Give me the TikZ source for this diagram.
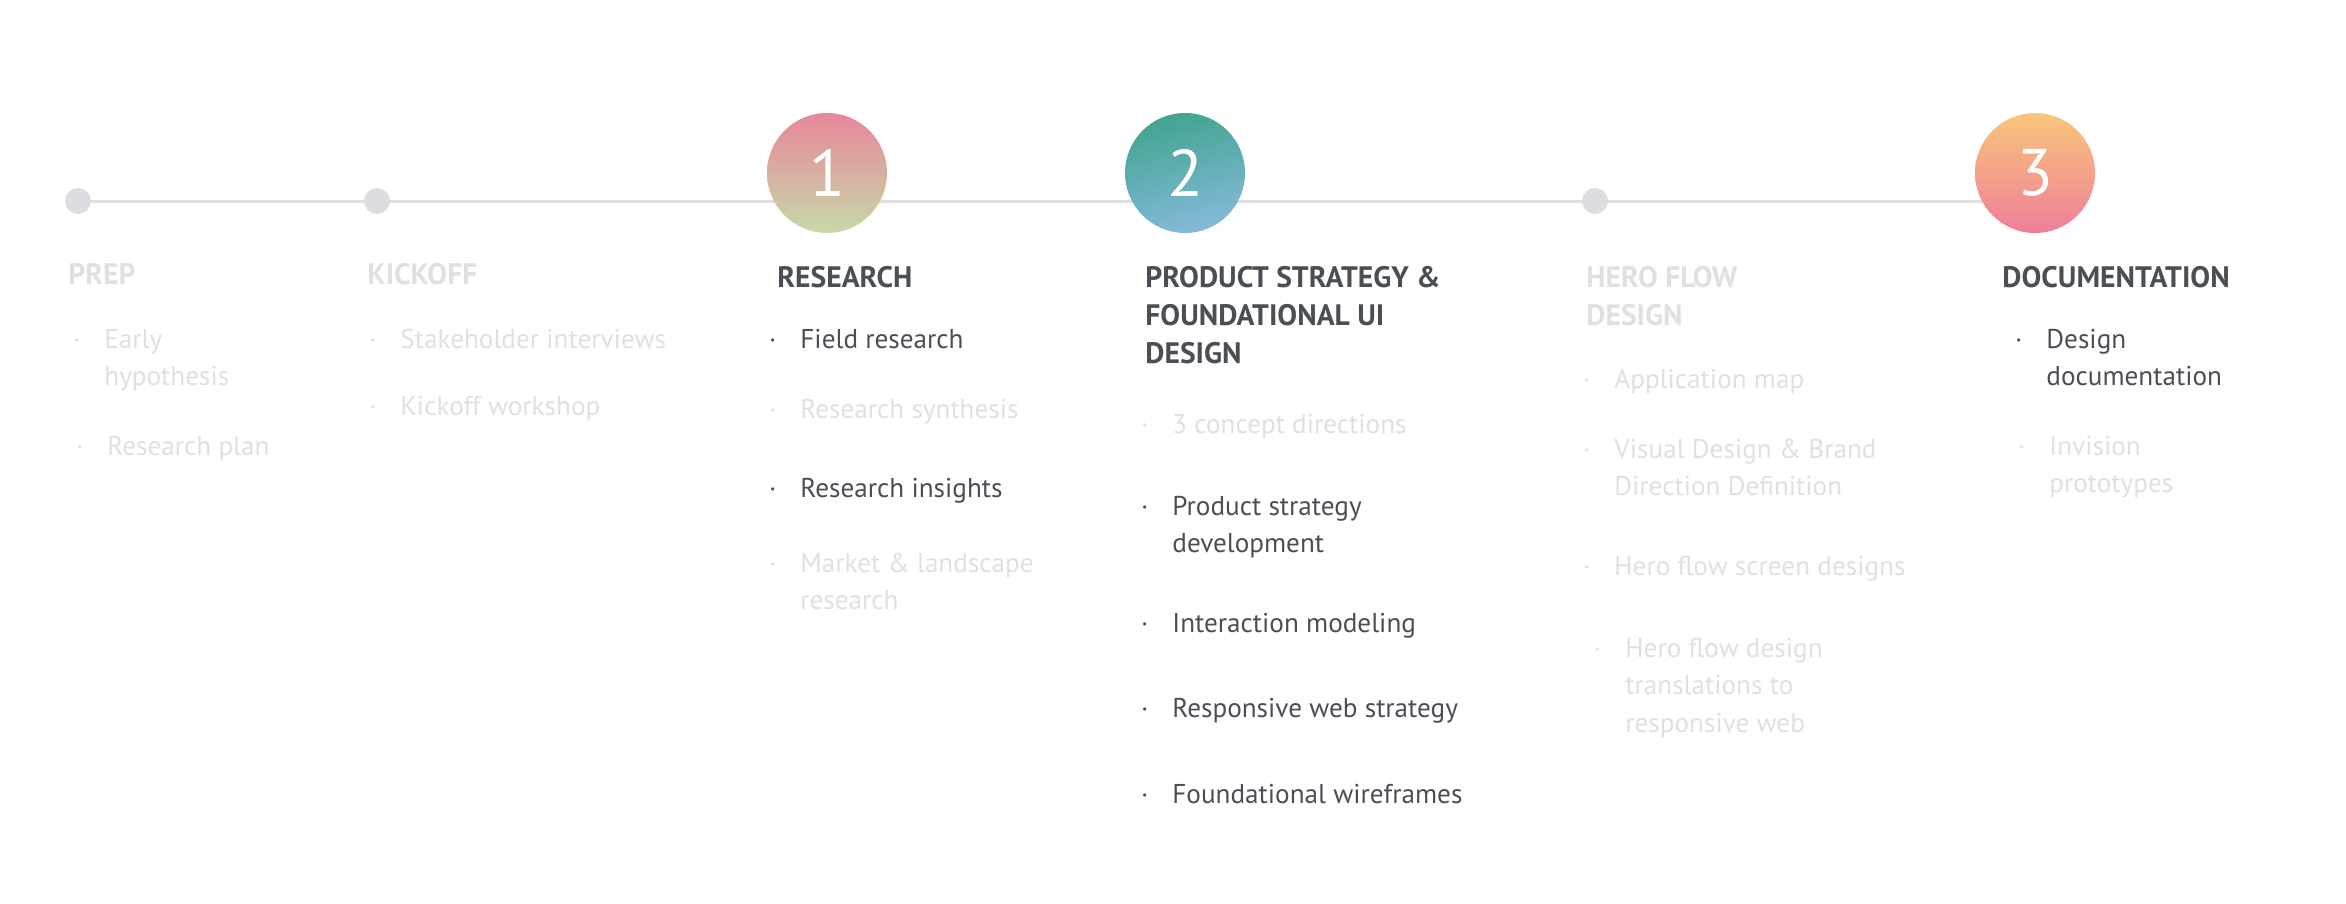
\documentclass[tikz,border=0pt]{standalone}
\usepackage{fontspec}
\setmainfont{PT Sans}
\usetikzlibrary{positioning,backgrounds}
\definecolor{track}{HTML}{E0E0E2}
\definecolor{stopgray}{HTML}{DCDDE0}
\definecolor{faint}{HTML}{E0E0E0}
\definecolor{ink}{HTML}{4A4F56}
\definecolor{pinkA}{HTML}{E6879B}
\definecolor{sageB}{HTML}{C8D9A8}
\definecolor{tealA}{HTML}{42A48F}
\definecolor{skyB}{HTML}{86B9DB}
\definecolor{sunA}{HTML}{F9C67A}
\definecolor{roseB}{HTML}{EF7E99}
\newcommand\bul{\llap{\textperiodcentered\hspace{12pt}}}
\tikzset{
  stop/.style={circle, fill=stopgray, minimum size=13pt, inner sep=0pt},
  phase/.style={circle, minimum size=60pt, inner sep=0pt, text=white, font=\fontsize{33}{33}\selectfont},
  head/.style={anchor=base west, inner sep=0pt, align=left, font=\fontsize{14.8}{19}\selectfont\bfseries},
  item/.style={anchor=base west, inner sep=0pt, align=left, font=\fontsize{13.6}{18.75}\selectfont},
  faded/.style={text=faint},
  active/.style={text=ink}
}
\begin{document}
\begin{tikzpicture}[x=0.5pt, y=-0.5pt]
    \useasboundingbox (0,0) rectangle (2346,904);
    \node[stop] (p) at (78,201) {};
    \node[stop] (k) at (377,201) {};
    \node[phase, top color=pinkA, bottom color=sageB] (r) at (827,173) {1};
    \node[phase, top color=tealA, bottom color=skyB, shading angle=15] (s) at (1185,173) {2};
    \node[stop] (h) at (1595,201) {};
    \node[phase, top color=sunA, bottom color=roseB] (d) at (2035,173) {3};
    \begin{scope}[on background layer]
        \draw[track, line width=1.5pt] (p) -- (p -| d);
    \end{scope}

    \node[head, faded] (ph) at (68,284) {PREP};
    \node[item, faded] (p1) at (104,385.5) {\bul Early\\hypothesis};
    \node[item, faded] (p2) at (107,455) {\bul Research plan};

    \node[head, faded] (kh) at (367,284) {KICKOFF};
    \node[item, faded] (k1) at (400,348) {\bul Stakeholder interviews};
    \node[item, faded] (k2) at (400,415) {\bul Kickoff workshop};

    \node[head, active] (rh) at (777,287) {RESEARCH};
    \node[item, active] (r1) at (800,348) {\bul Field research};
    \node[item, faded] (r2) at (800,418) {\bul Research synthesis};
    \node[item, active] (r3) at (800,497) {\bul Research insights};
    \node[item, faded] (r4) at (800,609.5) {\bul Market \& landscape\\research};

    \node[head, active] (sh) at (1145,363) {PRODUCT STRATEGY \&\\FOUNDATIONAL UI\\DESIGN};
    \node[item, faded] (s1) at (1172,433) {\bul 3 concept directions};
    \node[item, active] (s2) at (1172,552.5) {\bul Product strategy\\development};
    \node[item, active] (s3) at (1172,632) {\bul Interaction modeling};
    \node[item, active] (s4) at (1172,717) {\bul Responsive web strategy};
    \node[item, active] (s5) at (1172,803) {\bul Foundational wireframes};

    \node[head, faded] (hh) at (1586,325) {HERO FLOW\\DESIGN};
    \node[item, faded] (h1) at (1614,388) {\bul Application map};
    \node[item, faded] (h2) at (1614,495.5) {\bul Visual Design \& Brand\\Direction Definition};
    \node[item, faded] (h3) at (1614,575) {\bul Hero flow screen designs};
    \node[item, faded] (h4) at (1625,732) {\bul Hero flow design\\translations to\\responsive web};

    \node[head, active] (dh) at (2002,287) {DOCUMENTATION};
    \node[item, active] (d1) at (2046,385.5) {\bul Design\\documentation};
    \node[item, faded] (d2) at (2049,492.5) {\bul Invision\\prototypes};
\end{tikzpicture}
\end{document}
